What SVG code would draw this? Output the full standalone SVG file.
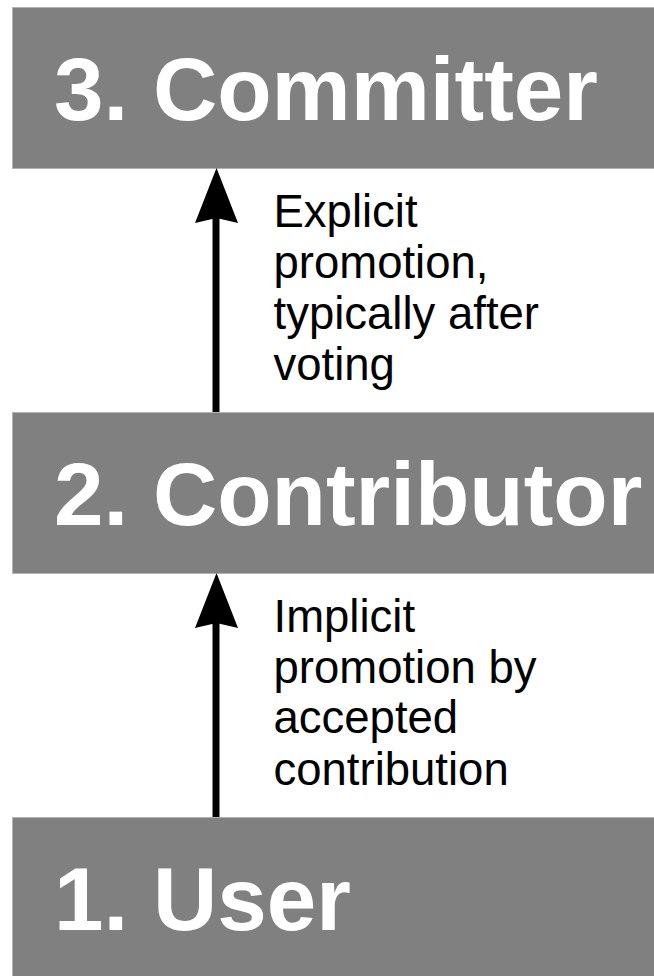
<svg xmlns="http://www.w3.org/2000/svg" width="654" height="976" viewBox="0 0 654 976">
  <style>
    .box { fill: #808080; stroke: #b3b3b3; stroke-width: 1; }
    .title { font-family: "Liberation Sans", Arial, sans-serif; font-weight: bold; font-size: 89px; fill: #ffffff; }
    .label { font-family: "Liberation Sans", Arial, sans-serif; font-size: 45.5px; fill: #000000; }
    .shaft { stroke: #000000; stroke-width: 7; fill: none; }
    .head { fill: #000000; }
  </style>
  <rect width="654" height="976" fill="#ffffff"/>
  <g id="node-committer">
    <rect class="box" x="12.5" y="7.5" width="660" height="161"/>
    <text class="title" x="54" y="120">3. Committer</text>
  </g>
  <g id="node-contributor">
    <rect class="box" x="12.5" y="412.5" width="660" height="161"/>
    <text class="title" x="54" y="525">2. Contributor</text>
  </g>
  <g id="node-user">
    <rect class="box" x="12.5" y="817.5" width="660" height="170"/>
    <text class="title" x="54" y="930">1. User</text>
  </g>
  <g id="connectors">
    <g id="edge-contributor-committer">
      <line class="shaft" x1="216" y1="412" x2="216" y2="215"/>
      <path class="head" d="M216.5,168 L238,223 L216.5,218 L195,223 Z"/>
      <text class="label">
        <tspan x="273.5" y="227">Explicit</tspan>
        <tspan x="273.5" y="278">promotion,</tspan>
        <tspan x="273.5" y="329">typically after</tspan>
        <tspan x="273.5" y="380">voting</tspan>
      </text>
    </g>
    <g id="edge-user-contributor">
      <line class="shaft" x1="216" y1="817" x2="216" y2="620"/>
      <path class="head" d="M216.5,573 L238,628 L216.5,623 L195,628 Z"/>
      <text class="label">
        <tspan x="273.5" y="632">Implicit</tspan>
        <tspan x="273.5" y="683">promotion by</tspan>
        <tspan x="273.5" y="733">accepted</tspan>
        <tspan x="273.5" y="785">contribution</tspan>
      </text>
    </g>
  </g>
</svg>
